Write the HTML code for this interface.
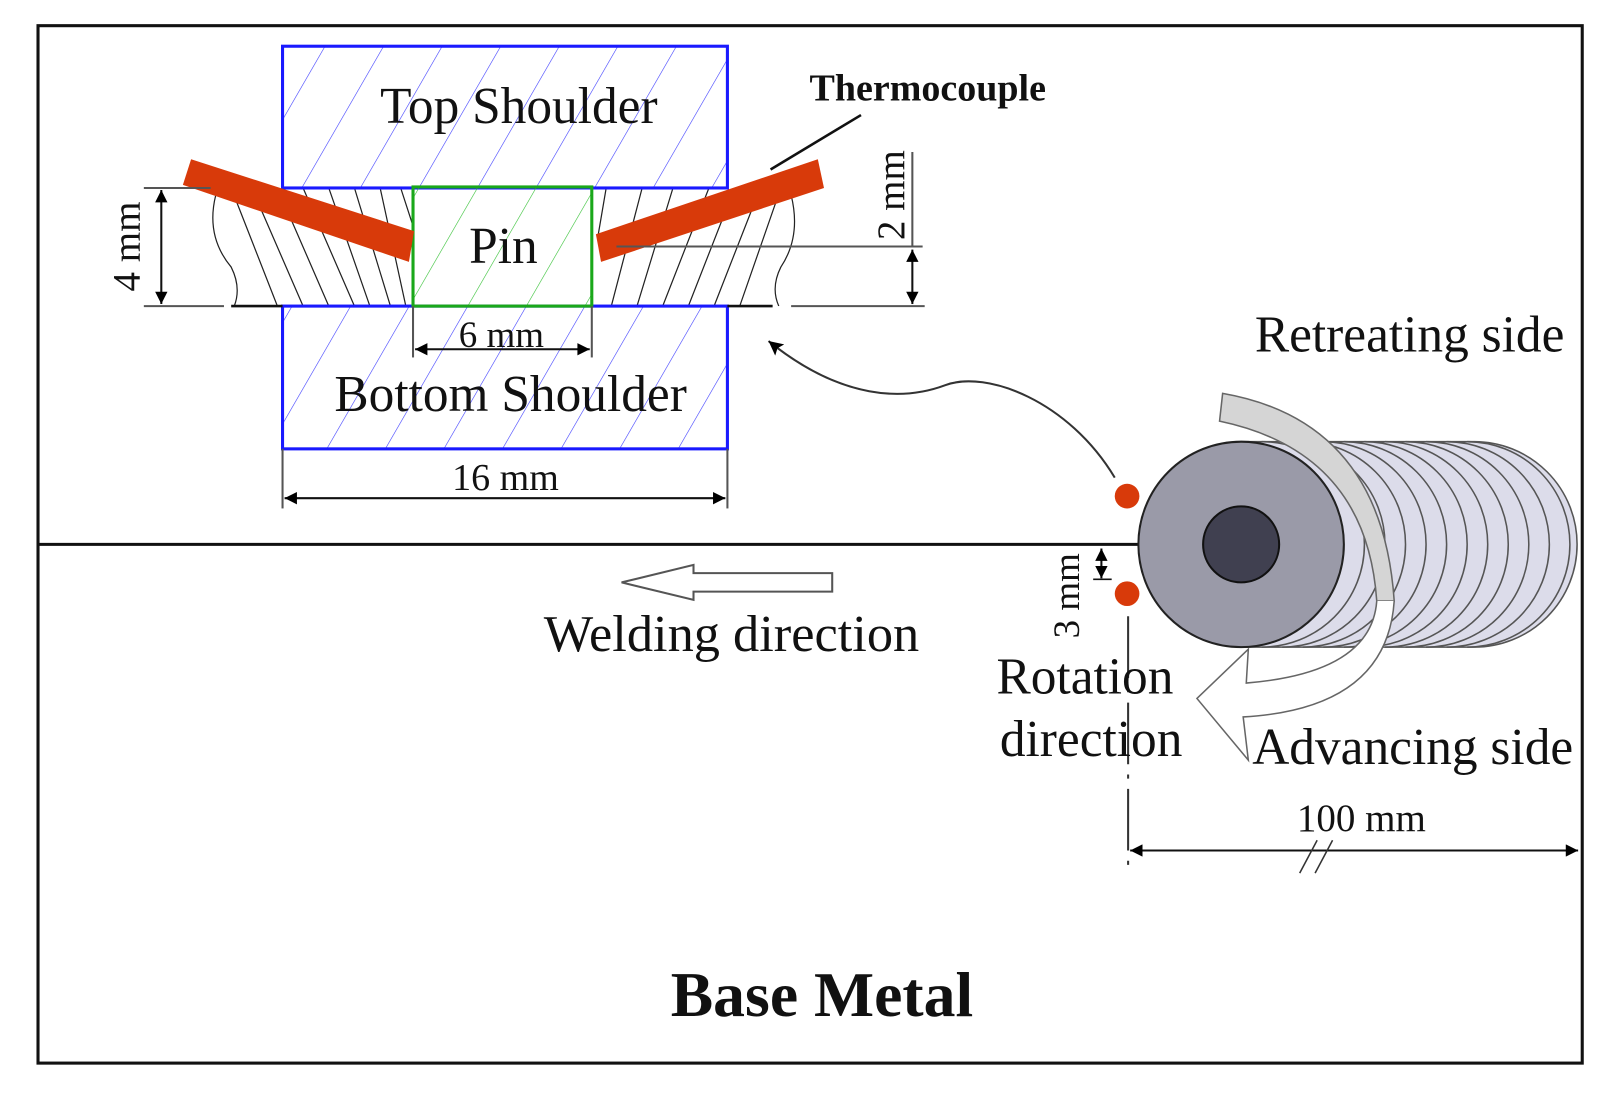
<!DOCTYPE html>
<html><head><meta charset="utf-8"><style>
html,body{margin:0;padding:0;background:#fff}
svg{display:block}
text{font-family:"Liberation Serif",serif;fill:#111}
</style></head><body>
<svg width="1611" height="1097" viewBox="0 0 1568 1068" preserveAspectRatio="none" xmlns="http://www.w3.org/2000/svg">
<defs>
<marker id="ah" viewBox="0 0 10 10" refX="10" refY="5" markerWidth="16" markerHeight="12" orient="auto-start-reverse" markerUnits="userSpaceOnUse"><path d="M0,0 L10,5 L0,10 Z" fill="#000"/></marker>
<marker id="ah2" viewBox="0 0 10 10" refX="10" refY="5" markerWidth="18" markerHeight="14" orient="auto-start-reverse" markerUnits="userSpaceOnUse"><path d="M0,0 L10,5 L0,10 L2,5 Z" fill="#000"/></marker>
<pattern id="hb" patternUnits="userSpaceOnUse" width="57" height="57" patternTransform="skewX(-30)"><line x1="0" y1="0" x2="0" y2="57" stroke="#3a3aff" stroke-width="1.3"/></pattern>
<pattern id="hg" patternUnits="userSpaceOnUse" width="57" height="57" patternTransform="skewX(-30)"><line x1="0" y1="0" x2="0" y2="57" stroke="#30c030" stroke-width="1.3"/></pattern>
<clipPath id="cl"><rect x="205" y="183" width="570" height="115"/></clipPath>
</defs>
<rect x="37" y="25" width="1503" height="1010" fill="#fff" stroke="#111" stroke-width="3"/>
<line x1="37" y1="530" x2="1110" y2="530" stroke="#111" stroke-width="3"/>

<g stroke="#222" stroke-width="1.2" fill="none" clip-path="url(#cl)">
<path d="M210,190 Q200,230 225,260 Q235,280 228,298"/>
<path d="M770,190 Q780,230 760,260 Q750,280 758,298"/>
<path d="M225,183 L270,298 M245,183 L295,298 M270,183 L320,298 M295,183 L345,298 M320,183 L360,298 M345,183 L380,298 M370,183 L395,298 M390,183 L402,220"/>
<path d="M582,230 L590,183 M595,298 L625,183 M620,298 L655,183 M645,298 L690,183 M670,298 L715,183 M695,298 L740,183 M720,298 L760,183"/>
</g>
<rect x="275" y="45" width="433" height="138" fill="url(#hb)" stroke="#1a1aff" stroke-width="3"/>
<rect x="275" y="298" width="433" height="139" fill="url(#hb)" stroke="#1a1aff" stroke-width="3"/>
<rect x="402" y="182" width="174" height="116" fill="url(#hg)" stroke="#1aa81a" stroke-width="3"/>
<line x1="225" y1="298" x2="275" y2="298" stroke="#111" stroke-width="2.5"/>
<line x1="708" y1="298" x2="752" y2="298" stroke="#111" stroke-width="2.5"/>
<polygon points="186,155 403,225 398,255 178,180" fill="#d83a0a"/>
<polygon points="796,155 802,183 585,255 580,228" fill="#d83a0a"/>
<line x1="750" y1="165" x2="838" y2="112" stroke="#111" stroke-width="2.5"/>
<text x="903" y="98" font-size="37" text-anchor="middle" font-weight="bold">Thermocouple</text>
<text x="505" y="120" font-size="50" text-anchor="middle">Top Shoulder</text>
<text x="490" y="256" font-size="50" text-anchor="middle">Pin</text>
<text x="497" y="400" font-size="50" text-anchor="middle">Bottom Shoulder</text>
<g stroke="#555" stroke-width="2">
<line x1="140" y1="183" x2="205" y2="183"/><line x1="140" y1="298" x2="218" y2="298"/>
<line x1="770" y1="298" x2="900" y2="298"/><line x1="600" y1="240" x2="898" y2="240"/>
<line x1="888" y1="148" x2="888" y2="240"/>
<line x1="402" y1="298" x2="402" y2="348"/><line x1="576" y1="298" x2="576" y2="348"/>
<line x1="275" y1="437" x2="275" y2="495"/><line x1="708" y1="437" x2="708" y2="495"/>
</g>
<line x1="157" y1="185" x2="157" y2="296" stroke="#111" stroke-width="2" marker-start="url(#ah)" marker-end="url(#ah)"/>
<line x1="888" y1="243" x2="888" y2="296" stroke="#111" stroke-width="2" marker-start="url(#ah)" marker-end="url(#ah)"/>
<line x1="404" y1="340" x2="574" y2="340" stroke="#111" stroke-width="2" marker-start="url(#ah)" marker-end="url(#ah)"/>
<line x1="277" y1="485" x2="706" y2="485" stroke="#111" stroke-width="2" marker-start="url(#ah)" marker-end="url(#ah)"/>
<text transform="translate(136,240) rotate(-90)" font-size="38" text-anchor="middle">4 mm</text>
<text transform="translate(880,190) rotate(-90)" font-size="38" text-anchor="middle">2 mm</text>
<text x="488" y="338" font-size="36" text-anchor="middle">6 mm</text>
<text x="492" y="477" font-size="37" text-anchor="middle">16 mm</text>
<path d="M1085,465 C1040,390 960,360 920,375 C880,390 820,390 748,332" fill="none" stroke="#333" stroke-width="2" marker-end="url(#ah2)"/>
<path d="M810,558 L675,558 L675,550 L605,567 L675,584 L675,576 L810,576 Z" fill="#fff" stroke="#555" stroke-width="2"/>
<text x="712" y="634" font-size="51" text-anchor="middle">Welding direction</text>
<path d="M1208,430 L1435,430 A100,100 0 0 1 1435,630 L1208,630 Z" fill="#dcdcea" stroke="#555" stroke-width="1.5"/>
<g fill="none" stroke="#555" stroke-width="1.5">
<path d="M1228,430 A100,100 0 0 1 1228,630"/><path d="M1248,430 A100,100 0 0 1 1248,630"/><path d="M1268,430 A100,100 0 0 1 1268,630"/><path d="M1288,430 A100,100 0 0 1 1288,630"/><path d="M1308,430 A100,100 0 0 1 1308,630"/><path d="M1328,430 A100,100 0 0 1 1328,630"/><path d="M1348,430 A100,100 0 0 1 1348,630"/><path d="M1368,430 A100,100 0 0 1 1368,630"/><path d="M1388,430 A100,100 0 0 1 1388,630"/><path d="M1408,430 A100,100 0 0 1 1408,630"/><path d="M1428,430 A100,100 0 0 1 1428,630"/>
</g>
<circle cx="1208" cy="530" r="100" fill="#9a9aa8" stroke="#222" stroke-width="2"/>
<circle cx="1208" cy="530" r="37" fill="#404050" stroke="#111" stroke-width="2"/>
<path d="M1190,383 Q1345,410 1357,585 L1340,585 Q1330,440 1187,410 Z" fill="#d5d5d5" stroke="#666" stroke-width="1.5"/>
<path d="M1357,585 Q1350,690 1210,698 L1215,740 L1165,680 L1215,632 L1213,665 Q1335,655 1340,585" fill="#fff" stroke="#666" stroke-width="1.5"/>
<circle cx="1097" cy="483" r="12" fill="#d83a0a"/>
<circle cx="1097" cy="578" r="12" fill="#d83a0a"/>
<line x1="1072" y1="534" x2="1072" y2="563" stroke="#111" stroke-width="2" marker-start="url(#ah)" marker-end="url(#ah)"/>
<line x1="1064" y1="564" x2="1082" y2="564" stroke="#111" stroke-width="1.5"/>
<text transform="translate(1050,580) rotate(-90)" font-size="36" text-anchor="middle">3 mm</text>
<line x1="1098" y1="600" x2="1098" y2="848" stroke="#333" stroke-width="2" stroke-dasharray="60,10,4,10"/>
<line x1="1100" y1="828" x2="1536" y2="828" stroke="#111" stroke-width="2" marker-start="url(#ah)" marker-end="url(#ah)"/>
<line x1="1265" y1="850" x2="1282" y2="818" stroke="#333" stroke-width="1.5"/>
<line x1="1280" y1="850" x2="1297" y2="818" stroke="#333" stroke-width="1.5"/>
<text x="1325" y="809" font-size="38" text-anchor="middle">100 mm</text>
<text x="1372" y="342" font-size="50" text-anchor="middle">Retreating side</text>
<text x="1375" y="744" font-size="50" text-anchor="middle">Advancing side</text>
<text x="1056" y="675" font-size="50" text-anchor="middle">Rotation</text>
<text x="1062" y="736" font-size="50" text-anchor="middle">direction</text>
<text x="800" y="989" font-size="62" font-weight="bold" text-anchor="middle">Base Metal</text>
</svg>
</body></html>
